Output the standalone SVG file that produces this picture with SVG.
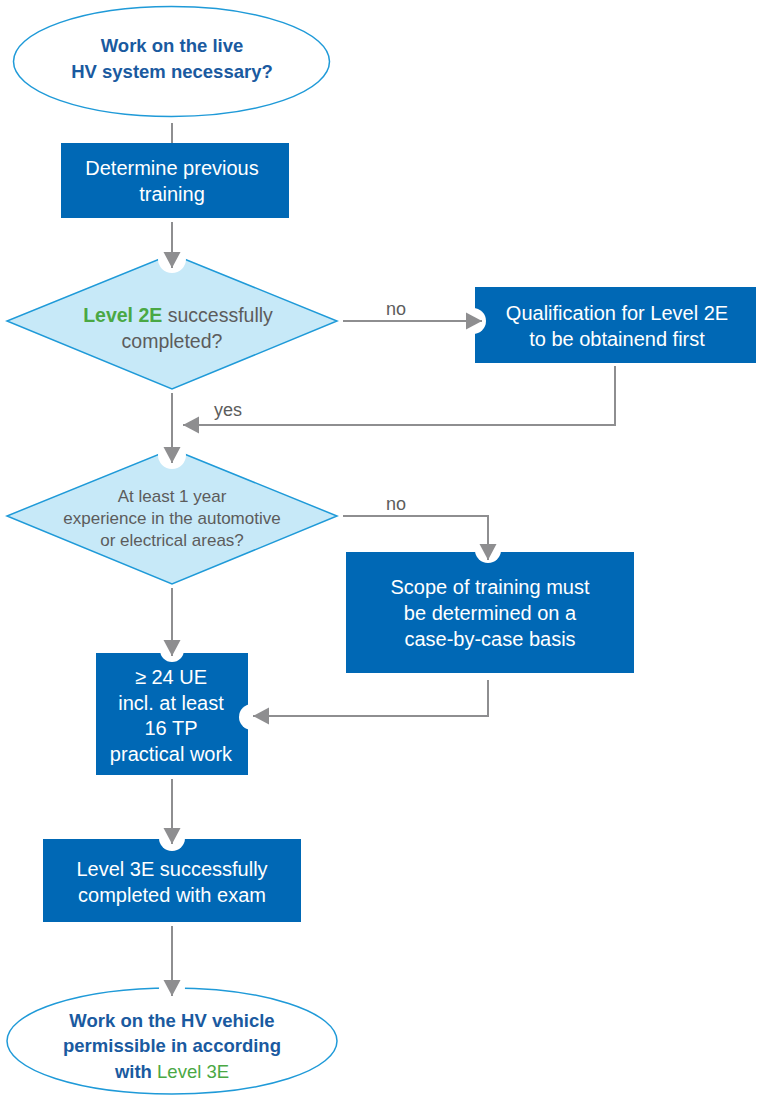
<svg xmlns="http://www.w3.org/2000/svg" width="758" height="1098" viewBox="0 0 758 1098">
<style>
.term{fill:#fff;stroke:#1f9ad8;stroke-width:1.5}
.box{fill:#0068b5}
.dia{fill:#c7e9f8;stroke:#1f9ad8;stroke-width:1.5}
.tb{font-family:"Liberation Sans",Arial,sans-serif;font-weight:bold;font-size:18.5px;fill:#1a5aa0;text-anchor:middle}
.tw{font-family:"Liberation Sans",Arial,sans-serif;font-size:20px;fill:#fff;text-anchor:middle}
.tg{font-family:"Liberation Sans",Arial,sans-serif;font-size:19.5px;fill:#5c5c5c;text-anchor:middle}
.ts{font-family:"Liberation Sans",Arial,sans-serif;font-size:17px;fill:#5c5c5c;text-anchor:middle}
.lbl{font-family:"Liberation Sans",Arial,sans-serif;font-size:18px;fill:#5c5c5c;text-anchor:middle}
.green{fill:#4aa844}
.ln{fill:none;stroke:#8e8e90;stroke-width:2}
.cut{fill:#fff}
</style>
<defs>
<marker id="ah" markerUnits="userSpaceOnUse" markerWidth="20" markerHeight="20" viewBox="-16 -10 20 20" refX="0" refY="0" orient="auto">
<path d="M-16,-8.5 L0,0 L-16,8.5 Z" fill="#8e8e90"/>
</marker>
</defs>
<g id="start">
<ellipse class="term" cx="171.5" cy="61.5" rx="158" ry="55"/>
<text class="tb" x="172" y="52">Work on the live</text>
<text class="tb" x="172" y="78">HV system necessary?</text>
</g>
<g id="determine">
<rect class="box" x="61" y="143" width="228" height="75"/>
<text class="tw" x="172" y="175">Determine previous</text>
<text class="tw" x="172" y="201">training</text>
</g>
<g id="level2e">
<polygon class="dia" points="172,254 337,321 172,389 7,321"/>
<text class="tg" x="178" y="322"><tspan class="green" font-weight="bold">Level 2E</tspan> successfully</text>
<text class="tg" x="172" y="348">completed?</text>
</g>
<g id="qualification">
<rect class="box" x="475" y="287" width="281" height="76"/>
<text class="tw" x="617" y="320">Qualification for Level 2E</text>
<text class="tw" x="617" y="346">to be obtainend first</text>
</g>
<g id="experience">
<polygon class="dia" points="172,449 337,516 172,584 7,516"/>
<text class="ts" x="172" y="502">At least 1 year</text>
<text class="ts" x="172" y="524">experience in the automotive</text>
<text class="ts" x="172" y="546">or electrical areas?</text>
</g>
<g id="scope">
<rect class="box" x="346" y="552" width="288" height="121"/>
<text class="tw" x="490" y="594">Scope of training must</text>
<text class="tw" x="490" y="620">be determined on a</text>
<text class="tw" x="490" y="646">case-by-case basis</text>
</g>
<g id="ue24">
<rect class="box" x="96" y="653" width="152" height="122"/>
<text class="tw" x="171" y="684">≥ 24 UE</text>
<text class="tw" x="171" y="710">incl. at least</text>
<text class="tw" x="171" y="735">16 TP</text>
<text class="tw" x="171" y="761">practical work</text>
</g>
<g id="level3e">
<rect class="box" x="43" y="839" width="258" height="83"/>
<text class="tw" x="172" y="876">Level 3E successfully</text>
<text class="tw" x="172" y="902">completed with exam</text>
</g>
<g id="end">
<ellipse class="term" cx="172" cy="1041" rx="165" ry="53"/>
<text class="tb" font-size="19px" x="172" y="1027">Work on the HV vehicle</text>
<text class="tb" font-size="19px" x="172" y="1052">permissible in according</text>
<text class="tb" font-size="19px" x="172" y="1078">with <tspan class="green" font-weight="normal">Level 3E</tspan></text>
</g>
<g id="connectors">
<circle class="cut" cx="172" cy="259" r="14"/>
<circle class="cut" cx="473" cy="321" r="13"/>
<circle class="cut" cx="172" cy="455" r="14"/>
<circle class="cut" cx="488" cy="550" r="13"/>
<circle class="cut" cx="252" cy="717" r="13"/>
<circle class="cut" cx="172" cy="650" r="12"/>
<circle class="cut" cx="172" cy="838" r="13"/>
<circle class="cut" cx="172" cy="988" r="13"/>
<path class="ln" d="M172,123 V143"/>
<path class="ln" d="M172,222 V268" marker-end="url(#ah)"/>
<path class="ln" d="M343,321 H482" marker-end="url(#ah)"/>
<path class="ln" d="M615,366 V425 H183" marker-end="url(#ah)"/>
<path class="ln" d="M172,393 V463" marker-end="url(#ah)"/>
<path class="ln" d="M343,516 H488 V560" marker-end="url(#ah)"/>
<path class="ln" d="M488,680 V716 H253" marker-end="url(#ah)"/>
<path class="ln" d="M172,588 V656" marker-end="url(#ah)"/>
<path class="ln" d="M172,779 V844" marker-end="url(#ah)"/>
<path class="ln" d="M172,926 V996" marker-end="url(#ah)"/>
<text class="lbl" x="396" y="315">no</text>
<text class="lbl" x="228" y="416">yes</text>
<text class="lbl" x="396" y="510">no</text>
</g>
</svg>
